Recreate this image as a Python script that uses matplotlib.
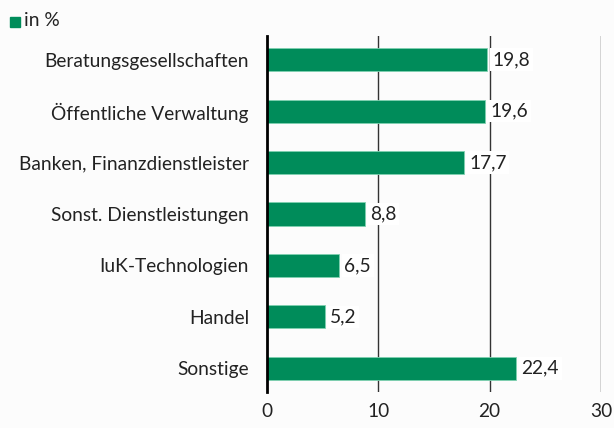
import matplotlib.pyplot as plt
import numpy as np

categories = ['Beratungsgesellschaften', 'Öffentliche Verwaltung', 'Banken, Finanzdienstleister',
              'Sonst. Dienstleistungen', 'IuK-Technologien', 'Handel', 'Sonstige']
values = [19.8, 19.6, 17.7, 8.8, 6.5, 5.2, 22.4]
xticks = [0, 10, 20, 30]

GREEN = '#008C5A'
FONT_SIZE = 13.8
plt.rcParams['font.family'] = ['Lato', 'DejaVu Sans']

fig = plt.figure(figsize=(6.14, 4.28), dpi=100)
fig.patch.set_facecolor('#fcfcfc')
ax = fig.add_axes([267 / 614, 36 / 428, 334 / 614, 356 / 428])
ax.set_facecolor('#fcfcfc')

y = np.arange(len(categories))
ax.barh(y, values, height=0.45, color=GREEN, edgecolor='#7fd1b0', linewidth=0.6, zorder=2)
for yi, v in zip(y, values):
    ax.text(v + 0.45, yi, f'{v:.1f}'.replace('.', ','), va='center', ha='left',
            fontsize=FONT_SIZE, color='#222222', zorder=3,
            bbox=dict(boxstyle='square,pad=0.15', fc='white', ec='none'))

ax.set_xlim(0, 30)
ax.set_ylim(len(categories) - 0.54, -0.46)
ax.set_xticks(xticks)
ax.set_xticklabels([str(t) for t in xticks], fontsize=FONT_SIZE, color='#222222')
ax.set_yticks(y)
ax.set_yticklabels(categories, fontsize=FONT_SIZE, color='#222222')
ax.tick_params(axis='both', length=0)
ax.tick_params(axis='y', pad=13)
ax.tick_params(axis='x', pad=8)
for t in [10, 20, 30]:
    ax.axvline(t, color='#333333', linewidth=1, zorder=1)
for s in ['top', 'right', 'bottom']:
    ax.spines[s].set_visible(False)
ax.spines['left'].set_linewidth(2)
ax.spines['left'].set_color('black')
ax.spines['left'].set_zorder(4)

fig.patches.append(plt.Rectangle((10 / 614, 1 - 27 / 428), 10 / 614, 10 / 428,
                                 transform=fig.transFigure, color=GREEN))
fig.text(24 / 614, 1 - 21 / 428, 'in %', fontsize=FONT_SIZE, va='center', ha='left', color='#222222')

plt.savefig('out.png', dpi=100, facecolor=fig.get_facecolor())
